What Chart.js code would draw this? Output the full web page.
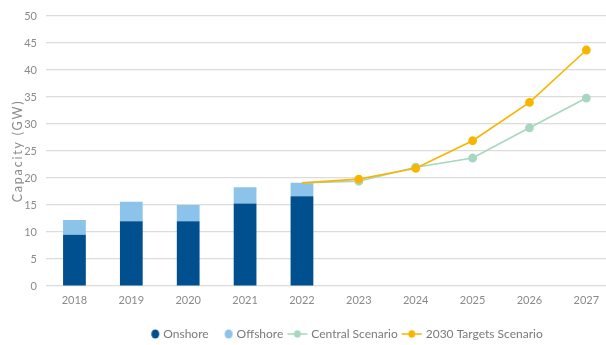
<!DOCTYPE html>
<html>
<head>
<meta charset="utf-8">
<script src="https://cdn.jsdelivr.net/npm/chart.js@4/dist/chart.umd.min.js"></script>
<style>
  html, body { margin: 0; padding: 0; background: #ffffff; overflow: hidden; }
  #wrap { width: 606px; height: 345px; overflow: hidden; position: relative; }
  #box { position: absolute; left: 0; top: 0; width: 620px; height: 345px; }
</style>
</head>
<body>
<div id="wrap"><div id="box"><canvas id="chart"></canvas></div></div>
<script>
// Installed wind capacity (GW): history as stacked bars, outlook as two scenario lines
const years = ['2018', '2019', '2020', '2021', '2022', '2023', '2024', '2025', '2026', '2027'];
const onshore = [9.5, 12.0, 12.0, 15.3, 16.6, null, null, null, null, null];
const offshore = [2.7, 3.6, 3.0, 3.0, 2.5, null, null, null, null, null];
const centralScenario = [null, null, null, null, 19.1, 19.4, 22.0, 23.7, 29.3, 34.8];
const targetsScenario = [null, null, null, null, 19.1, 19.8, 21.8, 26.9, 34.0, 43.7];
const yTicks = [0, 5, 10, 15, 20, 25, 30, 35, 40, 45, 50];

const FONT = 'Lato, "Open Sans", sans-serif';
const TEXT = '#8a8a8a';
const C_ON = '#00508f';
const C_OFF = '#8cc3ea';
const C_CEN = '#a7d7bf';
const C_TGT = '#f8b500';

// Legend glyphs: dots for the bar series, line-with-dot for the scenario series
function glyph(kind, color) {
  const c = document.createElement('canvas');
  c.width = 24; c.height = 10;
  const g = c.getContext('2d');
  g.fillStyle = color; g.strokeStyle = color;
  if (kind === 'dot') {
    g.beginPath(); g.ellipse(18, 5, 4, 4.6, 0, 0, Math.PI * 2); g.fill();
  } else {
    g.lineWidth = 1.5;
    g.beginPath(); g.moveTo(2, 5); g.lineTo(22, 5); g.stroke();
    g.beginPath(); g.ellipse(12, 5, 3.4, 3.8, 0, 0, Math.PI * 2); g.fill();
  }
  return c;
}
const glyphs = [glyph('dot', C_ON), glyph('dot', C_OFF), glyph('line', C_CEN), glyph('line', C_TGT)];

const pointSizes = years.map((y, i) => (i <= 4 ? 0 : 3.6));

// Legend sits a little right of the canvas centre and slightly lower
const legendShift = {
  id: 'legendShift',
  afterLayout(chart) {
    const l = chart.legend;
    if (l) { l.left += 32; l.right += 32; l.top += 5; l.bottom += 5; }
  }
};

// Wider tracking for the y-axis title
const spacedTitle = {
  id: 'spacedTitle',
  beforeDraw(chart) {
    const s = chart.scales.y;
    if (s && !s._spaced) {
      const orig = s.drawTitle.bind(s);
      s.drawTitle = function () {
        const ctx = this.ctx;
        const prev = ctx.letterSpacing;
        ctx.letterSpacing = '1.8px';
        orig();
        ctx.letterSpacing = prev;
      };
      s._spaced = true;
    }
  }
};

new Chart(document.getElementById('chart'), {
  data: {
    labels: years,
    datasets: [
      { type: 'bar', label: 'Onshore', data: onshore, backgroundColor: C_ON, stack: 'bars', order: 2,
        categoryPercentage: 0.8, barPercentage: 0.5 },
      { type: 'bar', label: 'Offshore', data: offshore, backgroundColor: C_OFF, stack: 'bars', order: 2,
        categoryPercentage: 0.8, barPercentage: 0.5 },
      { type: 'line', label: 'Central Scenario', data: centralScenario, borderColor: C_CEN, backgroundColor: C_CEN,
        borderWidth: 1.6, pointRadius: pointSizes, pointHoverRadius: pointSizes, stack: 'central', order: 1, tension: 0 },
      { type: 'line', label: '2030 Targets Scenario', data: targetsScenario, borderColor: C_TGT, backgroundColor: C_TGT,
        borderWidth: 1.6, pointRadius: pointSizes, pointHoverRadius: pointSizes, stack: 'targets', order: 0, tension: 0 }
    ]
  },
  options: {
    responsive: true,
    maintainAspectRatio: false,
    animation: false,
    layout: { padding: { top: 16, right: 0, bottom: 0, left: 0 } },
    plugins: {
      tooltip: { enabled: false },
      legend: {
        position: 'bottom',
        labels: {
          font: { family: FONT, size: 12 },
          color: '#7a7a7a',
          usePointStyle: true,
          pointStyleWidth: 16,
          boxHeight: 10,
          padding: 6,
          generateLabels(chart) {
            const items = Chart.defaults.plugins.legend.labels.generateLabels(chart);
            items.sort((a, b) => a.datasetIndex - b.datasetIndex);
            items.forEach(it => { it.pointStyle = glyphs[it.datasetIndex]; });
            return items;
          }
        }
      }
    },
    scales: {
      x: {
        stacked: true,
        grid: { display: false, drawTicks: false },
        border: { display: false },
        afterFit(scale) { scale.height = 31; },
        ticks: { color: TEXT, font: { family: FONT, size: 11 }, padding: 8, maxRotation: 0, autoSkip: false }
      },
      y: {
        stacked: true,
        min: 0, max: 50,
        afterBuildTicks(scale) { scale.ticks = yTicks.map(v => ({ value: v })); },
        afterFit(scale) { scale.width = 46; },
        grid: { color: '#dcdcdc', lineWidth: 1.2, drawTicks: false },
        border: { display: false },
        ticks: { color: TEXT, font: { family: FONT, size: 11 }, padding: 9 },
        title: { display: true, text: 'Capacity (GW)', color: TEXT, font: { family: FONT, size: 12.5 }, padding: { top: 10, bottom: 0 } }
      }
    }
  },
  plugins: [legendShift, spacedTitle]
});
</script>
</body>
</html>
